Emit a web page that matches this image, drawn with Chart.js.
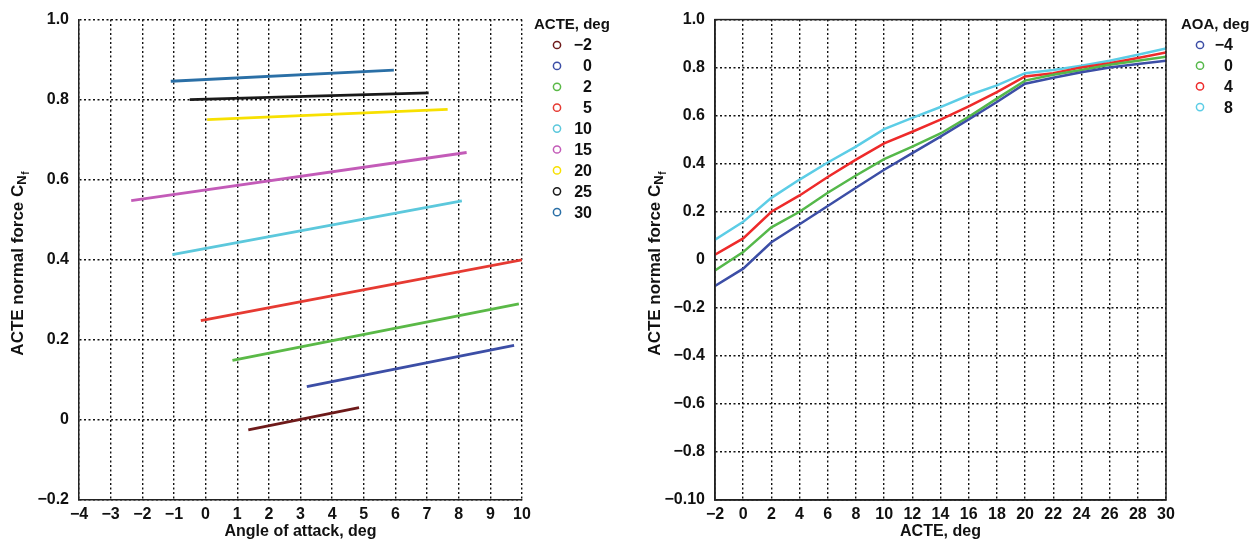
<!DOCTYPE html>
<html>
<head>
<meta charset="utf-8">
<script src="https://cdn.jsdelivr.net/npm/chart.js@4.4.1/dist/chart.umd.min.js"></script>
<style>
  body { margin: 0; background: #fff; }
  #wrap { display: flex; width: 1260px; height: 542px; }
  canvas { display: block; }
</style>
</head>
<body>
<div id="wrap">
  <canvas id="leftChart" width="640" height="542"></canvas>
  <canvas id="rightChart" width="620" height="542"></canvas>
</div>
<script>
// ---- left chart data: C_Nf vs angle of attack, one line per ACTE setting ----
const acteSettings = [-2, 0, 2, 5, 10, 15, 20, 25, 30];
const aoaStart = [1.35, 3.2, 0.85, -0.15, -1.05, -2.35, 0.05, -0.5, -1.1];
const aoaEnd = [4.85, 9.75, 9.9, 10.0, 8.1, 8.25, 7.65, 7.05, 5.95];
const cnfStart = [-0.025, 0.083, 0.149, 0.248, 0.413, 0.548, 0.750, 0.800, 0.846];
const cnfEnd = [0.031, 0.186, 0.290, 0.400, 0.547, 0.668, 0.776, 0.817, 0.874];
const acteColors = ['#6e1a1a', '#3c4ea6', '#5ab947', '#e63a32', '#5cc8dc', '#c35bb8', '#f7e000', '#1a1a1a', '#2a6fa6'];

// ---- right chart data: C_Nf vs ACTE, one line per angle of attack ----
const acteAxis = [-2, 0, 2, 4, 6, 8, 10, 12, 14, 16, 18, 20, 22, 24, 26, 28, 30];
const aoaSettings = [-4, 0, 4, 8];
const cnfAoaM4 = [-0.109, -0.037, 0.073, 0.148, 0.224, 0.300, 0.375, 0.444, 0.513, 0.584, 0.657, 0.733, 0.758, 0.781, 0.801, 0.815, 0.829];
const cnfAoa0 = [-0.044, 0.032, 0.135, 0.200, 0.279, 0.351, 0.419, 0.471, 0.526, 0.595, 0.671, 0.746, 0.770, 0.790, 0.812, 0.829, 0.845];
const cnfAoa4 = [0.021, 0.089, 0.200, 0.268, 0.345, 0.417, 0.485, 0.533, 0.584, 0.639, 0.698, 0.763, 0.777, 0.801, 0.818, 0.840, 0.863];
const cnfAoa8 = [0.084, 0.158, 0.258, 0.334, 0.405, 0.471, 0.544, 0.591, 0.636, 0.685, 0.726, 0.777, 0.790, 0.808, 0.829, 0.854, 0.880];
const aoaColors = ['#3c4ea6', '#55b84a', '#ee2a2a', '#5ccde6'];

const FONT = '"Liberation Sans", Arial, Helvetica, sans-serif';
const minus = (s) => String(s).replace('-', '\u2212');

// y tick text: 0 plain, others with one decimal
function cnfTick(v) {
    if (Math.abs(v) < 1e-9) return '0';
    const t = (v < 0 ? '\u2212' : '') + Math.abs(v).toFixed(1);
    return t;
}

// draws the rotated "ACTE normal force C_Nf" title with subscripts
function yTitlePlugin(cx) {
    return {
        id: 'yTitle',
        afterDraw(chart) {
            const ctx = chart.ctx;
            const cy = (chart.chartArea.top + chart.chartArea.bottom) / 2 + 4;
            const main = 'ACTE normal force C';
            ctx.save();
            ctx.translate(cx, cy);
            ctx.rotate(-Math.PI / 2);
            ctx.fillStyle = '#111';
            ctx.textBaseline = 'middle';
            ctx.textAlign = 'left';
            ctx.font = 'bold 17px ' + FONT;
            const w1 = ctx.measureText(main).width;
            ctx.font = 'bold 13px ' + FONT;
            const w2 = ctx.measureText('N').width;
            ctx.font = 'bold 10px ' + FONT;
            const w3 = ctx.measureText('f').width;
            let x = -(w1 + w2 + w3) / 2;
            ctx.font = 'bold 17px ' + FONT;
            ctx.fillText(main, x, 0);
            x += w1;
            ctx.font = 'bold 13px ' + FONT;
            ctx.fillText('N', x, 4);
            x += w2;
            ctx.font = 'bold 10px ' + FONT;
            ctx.fillText('f', x + 0.5, 8);
            ctx.restore();
        }
    };
}

// legend drawn by hand so the columns line up like the figure
function legendPlugin(opts) {
    return {
        id: 'sideLegend',
        afterDraw(chart) {
            const ctx = chart.ctx;
            ctx.save();
            ctx.fillStyle = '#111';
            ctx.textBaseline = 'middle';
            ctx.textAlign = 'left';
            ctx.font = 'bold 15px ' + FONT;
            ctx.fillText(opts.title, opts.titleX, 25);
            chart.data.datasets.forEach((ds, i) => {
                const y = opts.rowY + i * opts.rowGap;
                ctx.beginPath();
                ctx.arc(opts.circleX, y, 3.6, 0, Math.PI * 2);
                ctx.lineWidth = 1.5;
                ctx.strokeStyle = ds.borderColor;
                ctx.stroke();
                ctx.fillStyle = '#111';
                ctx.textAlign = 'right';
                ctx.font = 'bold 16px ' + FONT;
                ctx.fillText(ds.label, opts.textRight, y + 1);
            });
            ctx.restore();
        }
    };
}

// solid frame round the plot area
const framePlugin = {
    id: 'frame',
    afterDatasetsDraw(chart) {
        const a = chart.chartArea;
        const ctx = chart.ctx;
        ctx.save();
        ctx.strokeStyle = '#222';
        ctx.lineWidth = 1.5;
        ctx.strokeRect(a.left, a.top, a.right - a.left, a.bottom - a.top);
        ctx.restore();
    }
};

function axisOptions(min, max, step, tickFmt, title, width, isX) {
    const o = {
        type: 'linear',
        min: min,
        max: max,
        ticks: {
            stepSize: step,
            autoSkip: false,
            maxRotation: 0,
            color: '#111',
            font: { family: FONT, size: 16, weight: 'bold' },
            padding: isX ? 5 : 10,
            callback: tickFmt
        },
        grid: {
            color: '#111',
            lineWidth: 1.4,
            drawTicks: false
        },
        border: {
            display: true,
            color: '#222',
            width: 1.5,
            dash: [2, 2.5]
        },
        title: {
            display: !!title,
            text: title,
            color: '#111',
            font: { family: FONT, size: 16, weight: 'bold' },
            padding: { top: 0, bottom: 1 }
        },
        afterFit: (scale) => {
            if (isX) scale.height = width; else scale.width = width;
        }
    };
    return o;
}

// ---- left chart ----
const leftDatasets = acteSettings.map((a, i) => ({
    label: minus(a),
    data: [{ x: aoaStart[i], y: cnfStart[i] }, { x: aoaEnd[i], y: cnfEnd[i] }],
    borderColor: acteColors[i],
    backgroundColor: acteColors[i],
    borderWidth: 2.8,
    pointRadius: 0,
    tension: 0
}));

new Chart(document.getElementById('leftChart'), {
    type: 'line',
    data: { datasets: leftDatasets },
    options: {
        responsive: false,
        animation: false,
        devicePixelRatio: 1,
        layout: { padding: { left: 0, right: 118, top: 16, bottom: 0 } },
        plugins: { legend: { display: false }, tooltip: { enabled: false } },
        scales: {
            x: axisOptions(-4, 10, 1, (v) => minus(v), 'Angle of attack, deg', 42, true),
            y: axisOptions(-0.2, 1.0, 0.2, cnfTick, '', 79, false)
        }
    },
    plugins: [yTitlePlugin(18), legendPlugin({ title: 'ACTE, deg', titleX: 534, circleX: 557, textRight: 592, rowY: 45, rowGap: 20.9 })]
});

// ---- right chart ----
const aoaSeries = [cnfAoaM4, cnfAoa0, cnfAoa4, cnfAoa8];
const rightDatasets = aoaSettings.map((a, i) => ({
    label: minus(a),
    data: acteAxis.map((x, j) => ({ x: x, y: aoaSeries[i][j] })),
    borderColor: aoaColors[i],
    backgroundColor: aoaColors[i],
    borderWidth: 2.5,
    pointRadius: 0,
    tension: 0
}));

// bottom tick of the original reads "−0.10"
function rightYTick(v) {
    if (Math.abs(v + 1) < 1e-9) return '\u22120.10';
    return cnfTick(v);
}

new Chart(document.getElementById('rightChart'), {
    type: 'line',
    data: { datasets: rightDatasets },
    options: {
        responsive: false,
        animation: false,
        devicePixelRatio: 1,
        layout: { padding: { left: 0, right: 94, top: 16, bottom: 0 } },
        plugins: { legend: { display: false }, tooltip: { enabled: false } },
        scales: {
            x: axisOptions(-2, 30, 2, (v) => minus(v), 'ACTE, deg', 42, true),
            y: axisOptions(-1.0, 1.0, 0.2, rightYTick, '', 75, false)
        }
    },
    plugins: [framePlugin, yTitlePlugin(15), legendPlugin({ title: 'AOA, deg', titleX: 541, circleX: 560, textRight: 593, rowY: 45, rowGap: 20.7 })]
});
</script>
</body>
</html>
